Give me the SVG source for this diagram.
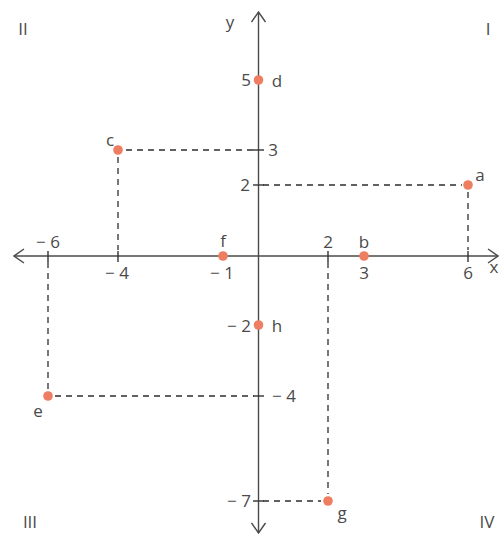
<svg xmlns="http://www.w3.org/2000/svg" width="500" height="534" viewBox="0 0 500 534">
<defs>
<style>
text{font-family:"Open Sans","Liberation Sans",sans-serif;font-size:17px;fill:#4a4a4a;text-anchor:middle}
.axis{stroke:#4a4a4a;stroke-width:1.4;fill:none}
.tick{stroke:#333;stroke-width:1.4}
.dash{stroke:#2e2e2e;stroke-width:1.3;stroke-dasharray:6 5;fill:none}
.pt{fill:#ee7e62}
</style>
<marker id="arr" viewBox="0 0 12 16" refX="11" refY="8" markerWidth="12" markerHeight="16" markerUnits="userSpaceOnUse" orient="auto-start-reverse">
<path d="M1,1 L11,8 L1,15" fill="none" stroke="#4a4a4a" stroke-width="1.4"/>
</marker>
</defs>
<rect width="500" height="534" fill="#fff"/>
<g id="connectors">
<line class="axis" x1="14" y1="256" x2="498" y2="256" marker-start="url(#arr)" marker-end="url(#arr)"/>
<line class="axis" x1="258.5" y1="12" x2="258.5" y2="533" marker-start="url(#arr)" marker-end="url(#arr)"/>
<g id="ticks">
<line class="tick" x1="48" y1="251" x2="48" y2="262"/>
<line class="tick" x1="118" y1="251" x2="118" y2="262"/>
<line class="tick" x1="328" y1="251" x2="328" y2="262"/>
<line class="tick" x1="468" y1="251" x2="468" y2="262"/>
<line class="tick" x1="253" y1="150" x2="264" y2="150"/>
<line class="tick" x1="253" y1="185" x2="264" y2="185"/>
<line class="tick" x1="253" y1="396" x2="264" y2="396"/>
<line class="tick" x1="253" y1="501" x2="264" y2="501"/>
</g>
<path class="dash" d="M126,150 H254"/>
<path class="dash" d="M118,157 V250"/>
<path class="dash" d="M263,185 H462"/>
<path class="dash" d="M468,192 V250"/>
<path class="dash" d="M55,396 H254"/>
<path class="dash" d="M48,262 V389"/>
<path class="dash" d="M328,262 V494"/>
<path class="dash" d="M263,501 H321"/>
</g>
<g id="labels">
<text x="23" y="35">II</text>
<text x="488" y="35">I</text>
<text x="30" y="528">III</text>
<text x="487" y="528">IV</text>
<text x="230" y="28">y</text>
<text x="494" y="273" text-anchor="start">x</text>
<text x="48" y="248">− 6</text>
<text x="117" y="279">− 4</text>
<text x="222" y="279">− 1</text>
<text x="328" y="248">2</text>
<text x="364" y="279">3</text>
<text x="468" y="279">6</text>
<text x="246" y="86">5</text>
<text x="273" y="156">3</text>
<text x="245" y="191">2</text>
<text x="239" y="332">− 2</text>
<text x="284" y="402">− 4</text>
<text x="239" y="507">− 7</text>
</g>
<g id="point-a"><circle class="pt" cx="468" cy="185" r="4.8"/><text x="480" y="181">a</text></g>
<g id="point-b"><circle class="pt" cx="364" cy="256" r="4.8"/><text x="364" y="248">b</text></g>
<g id="point-c"><circle class="pt" cx="118" cy="150" r="4.8"/><text x="110" y="146">c</text></g>
<g id="point-d"><circle class="pt" cx="258.5" cy="80" r="4.8"/><text x="277" y="87">d</text></g>
<g id="point-e"><circle class="pt" cx="48" cy="396" r="4.8"/><text x="38" y="417">e</text></g>
<g id="point-f"><circle class="pt" cx="223" cy="256" r="4.8"/><text x="223" y="247">f</text></g>
<g id="point-g"><circle class="pt" cx="328" cy="501" r="4.8"/><text x="342" y="519">g</text></g>
<g id="point-h"><circle class="pt" cx="258.5" cy="325" r="4.8"/><text x="277" y="332">h</text></g>
</svg>
